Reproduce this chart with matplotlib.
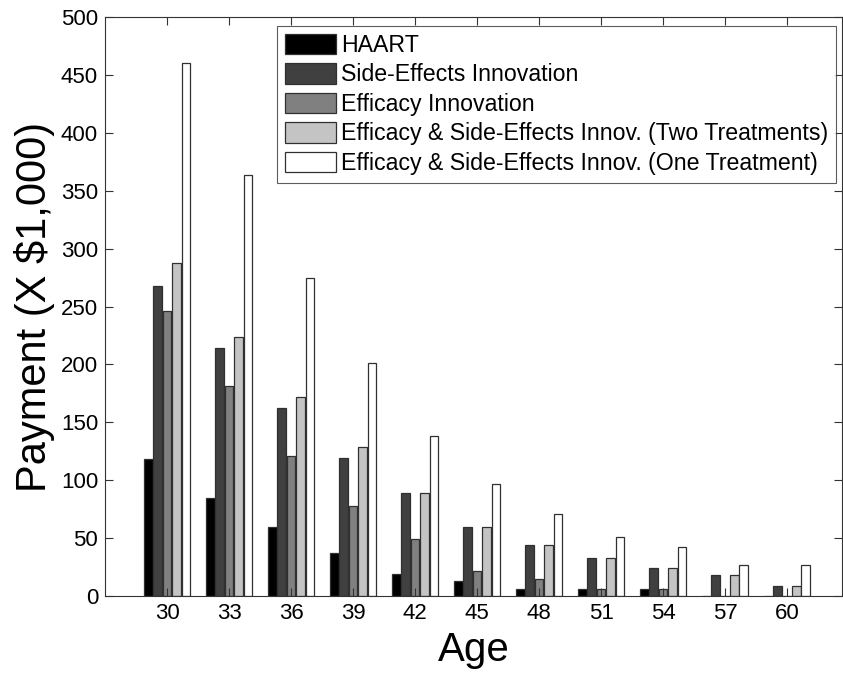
import matplotlib.pyplot as plt
import numpy as np

plt.rcParams['font.family'] = ['Liberation Sans', 'DejaVu Sans']

# Payment (x $1,000) by starting age
ages = [30, 33, 36, 39, 42, 45, 48, 51, 54, 57, 60]
haart = [118, 85, 60, 37, 19, 13, 6, 6, 6, 0, 0]
side_effects = [268, 214, 162, 119, 89, 60, 44, 33, 24, 18, 9]
efficacy = [246, 181, 121, 78, 49, 22, 15, 6, 6, 0, 0]
both_two = [288, 224, 172, 129, 89, 60, 44, 33, 24, 18, 9]
both_one = [460, 364, 275, 201, 138, 97, 71, 51, 42, 27, 27]

labels = ["HAART",
          "Side-Effects Innovation",
          "Efficacy Innovation",
          "Efficacy & Side-Effects Innov. (Two Treatments)",
          "Efficacy & Side-Effects Innov. (One Treatment)"]
series = [haart, side_effects, efficacy, both_two, both_one]
colors = ["#000000", "#404040", "#808080", "#c4c4c4", "#ffffff"]

fig = plt.figure(figsize=(8.43, 6.81), dpi=100)
ax = fig.add_axes([0.1246, 0.1248, 0.8742, 0.8502])

x = np.array(ages, dtype=float)
step = 0.455
for i, (vals, lab, col) in enumerate(zip(series, labels, colors)):
    ax.bar(x + (i - 2) * step, vals, width=step * 0.92, color=col,
           edgecolor="#303030", linewidth=0.9, label=lab)

ax.set_xlim(27, 62.66)
ax.set_ylim(0, 500)
ax.set_xticks(ages)
ax.set_yticks(np.arange(0, 501, 50))
ax.tick_params(direction="in", length=6, top=True, right=True, pad=5,
               labelsize=16, width=0.8, colors="#333333", labelcolor="black")
for s in ax.spines.values():
    s.set_color("#333333")
    s.set_linewidth(0.8)

ax.set_xlabel("Age", fontsize=29, labelpad=5)
ax.set_ylabel("Payment (X $1,000)", fontsize=30, labelpad=4)

leg = ax.legend(loc="upper right", bbox_to_anchor=(0.992, 0.985), fontsize=16.7,
                frameon=True, fancybox=False, edgecolor="#333333",
                handlelength=2.2, handleheight=0.96, handletextpad=0.22,
                labelspacing=0.28, borderpad=0.35, borderaxespad=0)
leg.get_frame().set_linewidth(0.8)

fig.savefig("out.png", dpi=100)
